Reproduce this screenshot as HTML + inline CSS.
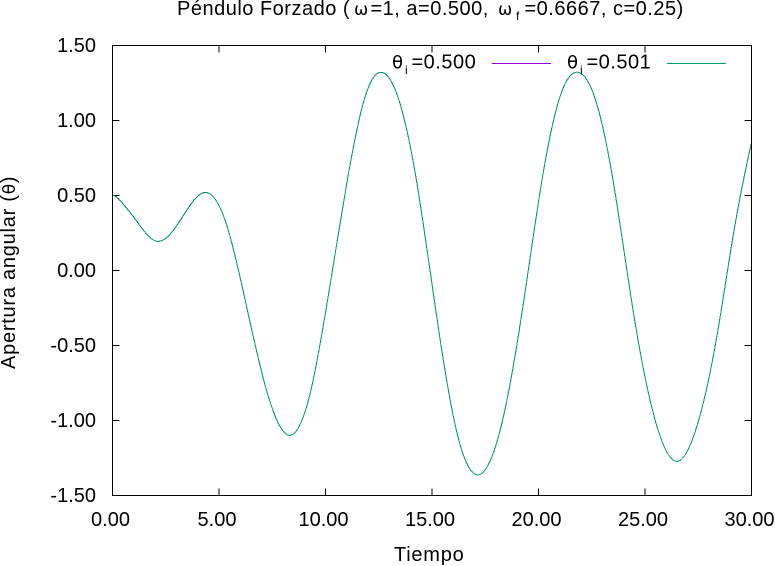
<!DOCTYPE html>
<html lang="es">
<head>
<meta charset="utf-8">
<title>Péndulo Forzado</title>
<style>
html,body{margin:0;padding:0;background:#fff;width:775px;height:566px;overflow:hidden}
svg{display:block}
text{font-family:"Liberation Sans",Arial,sans-serif;fill:#000}
.lbl{font-size:20px}
.ttl{font-size:20px;letter-spacing:.5px}
.axt{font-size:20px;letter-spacing:.75px}
.leg{font-size:20px;letter-spacing:.5px}
.sym{font-family:"DejaVu Sans","Liberation Sans",sans-serif}
.crisp{shape-rendering:crispEdges}
</style>
</head>
<body>
<svg id="chart" xmlns="http://www.w3.org/2000/svg" width="775" height="566" viewBox="0 0 775 566">
  <rect x="0" y="0" width="775" height="566" fill="#fff"/>
  <text class="ttl" y="15"><tspan x="177">Péndulo Forzado (</tspan><tspan class="sym" x="354" font-size="17">ω</tspan><tspan x="370.5">=1, a=0.500,</tspan><tspan class="sym" x="498" font-size="17">ω</tspan><tspan x="516" y="20" font-size="12">f</tspan><tspan x="524.5" y="15">=0.6667, c=0.25)</tspan></text>
  <g id="ticks"></g>
  <g id="series"></g>
  <rect class="crisp" x="112.5" y="45.5" width="639" height="450" fill="none" stroke="#000" stroke-width="1"/>
  <text class="axt" x="394" y="561">Tiempo</text>
  <text class="axt" transform="translate(15,369) rotate(-90)">Apertura angular (<tspan class="sym" font-size="17">θ</tspan>)</text>
  <g>
    <text class="leg" y="68.5"><tspan class="sym" x="392" font-size="18">θ</tspan><tspan x="405" y="74" font-size="12">i</tspan><tspan x="411.5" y="68.5">=0.500</tspan></text>
    <line class="crisp" x1="492" y1="63.5" x2="551" y2="63.5" stroke="#9400d3" stroke-width="1"/>
  </g>
  <g>
    <text class="leg" y="68.5"><tspan class="sym" x="567" font-size="18">θ</tspan><tspan x="580" y="74" font-size="12">i</tspan><tspan x="586.5" y="68.5">=0.501</tspan></text>
    <line class="crisp" x1="667" y1="63.5" x2="726" y2="63.5" stroke="#009e73" stroke-width="1"/>
  </g>
</svg>
<script>
var xTickValues = [0, 5, 10, 15, 20, 25, 30];
var xTickLabels = ["0.00", "5.00", "10.00", "15.00", "20.00", "25.00", "30.00"];
var yTickValues = [-1.5, -1, -0.5, 0, 0.5, 1, 1.5];
var yTickLabels = ["-1.50", "-1.00", "-0.50", "0.00", "0.50", "1.00", "1.50"];

var times = [0,0.5,1,2.07,3.17,4.34,5.36,6.14,7.08,8.3,9.27,10.18,10.99,11.93,12.64,13.34,14.28,15.14,16.16,17.25,18.35,19.29,20.15,21.09,21.87,22.57,23.51,24.45,25.39,26.53,27.43,28.37,29.22,30];

var thetaA = [0.5,0.443,0.355,0.195,0.332,0.521,0.303,-0.141,-0.72,-1.099,-0.825,-0.125,0.575,1.19,1.321,1.181,0.592,-0.23,-1.075,-1.36,-0.975,-0.219,0.592,1.192,1.321,1.181,0.592,-0.275,-0.952,-1.272,-1.041,-0.441,0.3,0.855];

var thetaB = [0.501,0.444,0.356,0.195,0.331,0.52,0.304,-0.139,-0.719,-1.099,-0.826,-0.127,0.573,1.189,1.321,1.182,0.594,-0.228,-1.074,-1.36,-0.977,-0.221,0.59,1.191,1.321,1.182,0.594,-0.273,-0.951,-1.272,-1.042,-0.443,0.298,0.853];

var NS = "http://www.w3.org/2000/svg";
function xScale(t){ return 112.5 + (t - 0) * 639 / 30; }
function yScale(v){ return 270.5 - v * 150; }

/* C2 cubic spline slopes: flat start, three-point end slope (Thomas algorithm) */
function slopes(xs, ys){
  var n = xs.length, h = [], d = [], a = [], b = [], c = [], r = [], i;
  for(i = 0; i < n-1; i++){ h.push(xs[i+1]-xs[i]); d.push((ys[i+1]-ys[i])/h[i]); }
  a[0] = 0; b[0] = 1; c[0] = 0; r[0] = 0;
  for(i = 1; i < n-1; i++){
    a[i] = h[i]; b[i] = 2*(h[i-1]+h[i]); c[i] = h[i-1];
    r[i] = 3*(h[i]*d[i-1] + h[i-1]*d[i]);
  }
  a[n-1] = 0; b[n-1] = 1; c[n-1] = 0;
  r[n-1] = d[n-2] + (d[n-2]-d[n-3])*h[n-2]/(h[n-2]+h[n-3]);
  for(i = 1; i < n; i++){
    var w = a[i]/b[i-1];
    b[i] -= w*c[i-1];
    r[i] -= w*r[i-1];
  }
  var m = [];
  m[n-1] = r[n-1]/b[n-1];
  for(i = n-2; i >= 0; i--){ m[i] = (r[i]-c[i]*m[i+1])/b[i]; }
  return m;
}
function curvePath(xs, ys){
  var m = slopes(xs, ys), d = "M" + xScale(xs[0]).toFixed(2) + " " + yScale(ys[0]).toFixed(2);
  for(var i = 0; i < xs.length-1; i++){
    var h = xs[i+1]-xs[i];
    d += "C" + xScale(xs[i]+h/3).toFixed(2) + " " + yScale(ys[i]+m[i]*h/3).toFixed(2) +
         " " + xScale(xs[i+1]-h/3).toFixed(2) + " " + yScale(ys[i+1]-m[i+1]*h/3).toFixed(2) +
         " " + xScale(xs[i+1]).toFixed(2) + " " + yScale(ys[i+1]).toFixed(2);
  }
  return d;
}

var ticks = document.getElementById("ticks");
var series = document.getElementById("series");

xTickValues.forEach(function(v, i){
  var px = xScale(v);
  [[495.5, 488.5], [45.5, 52.5]].forEach(function(s){
    var l = document.createElementNS(NS, "line");
    
    
    l.setAttribute("class", "crisp");
    l.setAttribute("x1", px); l.setAttribute("x2", px);
    l.setAttribute("y1", s[0]); l.setAttribute("y2", s[1]);
    l.setAttribute("stroke", "#000");
    ticks.appendChild(l);
  });
  var t = document.createElementNS(NS, "text");
  
  
  t.setAttribute("class", "lbl");
  t.setAttribute("x", px - 2);
  t.setAttribute("y", 526);
  t.setAttribute("text-anchor", "middle");
  t.textContent = xTickLabels[i];
  ticks.appendChild(t);
});

yTickValues.forEach(function(v, i){
  var py = yScale(v);
  [[112.5, 119.5], [751.5, 744.5]].forEach(function(s){
    var l = document.createElementNS(NS, "line");
    
    
    l.setAttribute("class", "crisp");
    l.setAttribute("y1", py); l.setAttribute("y2", py);
    l.setAttribute("x1", s[0]); l.setAttribute("x2", s[1]);
    l.setAttribute("stroke", "#000");
    ticks.appendChild(l);
  });
  var t = document.createElementNS(NS, "text");
  
  
  t.setAttribute("class", "lbl");
  t.setAttribute("x", 96);
  t.setAttribute("y", py + 6.5);
  t.setAttribute("text-anchor", "end");
  t.textContent = yTickLabels[i];
  ticks.appendChild(t);
});

var pathA = document.createElementNS(NS, "path");


pathA.setAttribute("class", "crisp");
pathA.setAttribute("d", curvePath(times, thetaA));
pathA.setAttribute("fill", "none");
pathA.setAttribute("stroke", "#9400d3");
pathA.setAttribute("stroke-width", "1");
series.appendChild(pathA);

var pathB = document.createElementNS(NS, "path");


pathB.setAttribute("class", "crisp");
pathB.setAttribute("d", curvePath(times, thetaB));
pathB.setAttribute("fill", "none");
pathB.setAttribute("stroke", "#009e73");
pathB.setAttribute("stroke-width", "1");
series.appendChild(pathB);
</script>
</body>
</html>
